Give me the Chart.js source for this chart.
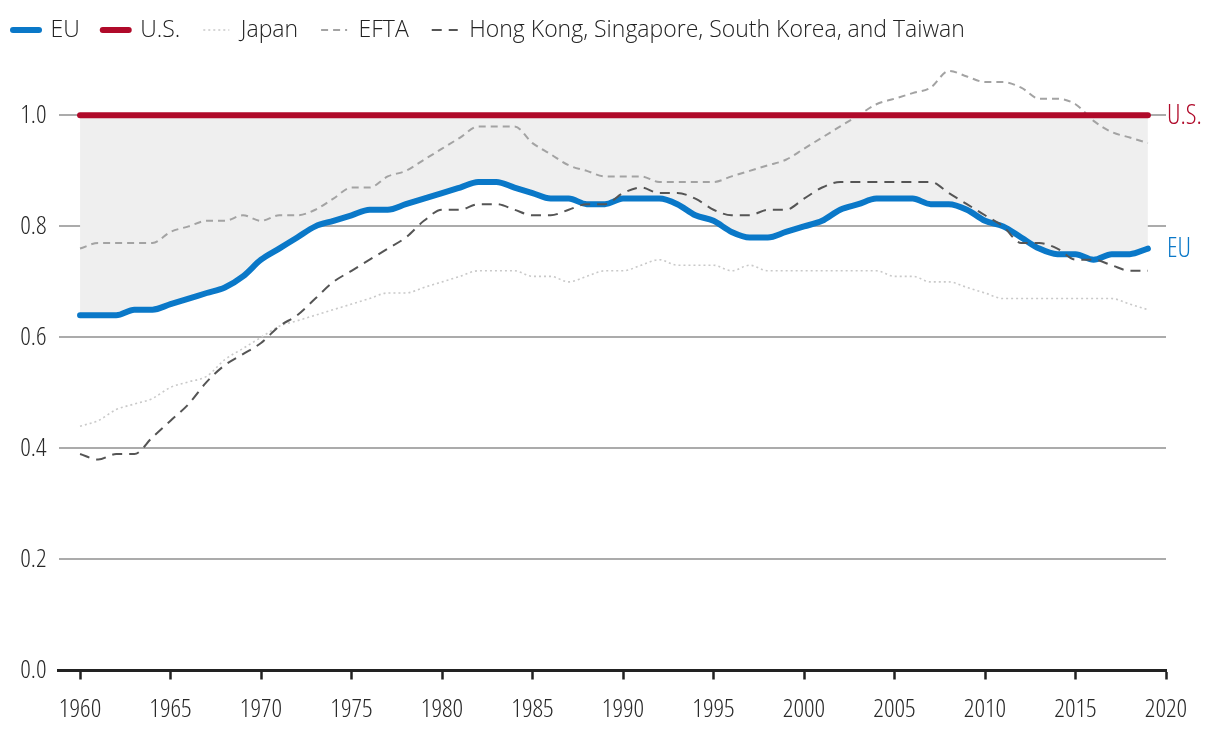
<!DOCTYPE html>
<html>
<head>
<meta charset="utf-8">
<script src="https://cdn.jsdelivr.net/npm/chart.js@4.4.0/dist/chart.umd.min.js"></script>
<style>
  html, body { margin: 0; padding: 0; background: #ffffff; }
  #wrap { width: 1220px; height: 742px; position: relative; }
</style>
</head>
<body>
<div id="wrap"><canvas id="c" width="1220" height="742"></canvas></div>
<script>
const years = [1960,1961,1962,1963,1964,1965,1966,1967,1968,1969,
               1970,1971,1972,1973,1974,1975,1976,1977,1978,1979,
               1980,1981,1982,1983,1984,1985,1986,1987,1988,1989,
               1990,1991,1992,1993,1994,1995,1996,1997,1998,1999,
               2000,2001,2002,2003,2004,2005,2006,2007,2008,2009,
               2010,2011,2012,2013,2014,2015,2016,2017,2018,2019];

const euValues = [0.64,0.64,0.64,0.65,0.65,0.66,0.67,0.68,0.69,0.71,
                  0.74,0.76,0.78,0.80,0.81,0.82,0.83,0.83,0.84,0.85,
                  0.86,0.87,0.88,0.88,0.87,0.86,0.85,0.85,0.84,0.84,
                  0.85,0.85,0.85,0.84,0.82,0.81,0.79,0.78,0.78,0.79,
                  0.80,0.81,0.83,0.84,0.85,0.85,0.85,0.84,0.84,0.83,
                  0.81,0.80,0.78,0.76,0.75,0.75,0.74,0.75,0.75,0.76];

const usValues = [1.0,1.0,1.0,1.0,1.0,1.0,1.0,1.0,1.0,1.0,
                  1.0,1.0,1.0,1.0,1.0,1.0,1.0,1.0,1.0,1.0,
                  1.0,1.0,1.0,1.0,1.0,1.0,1.0,1.0,1.0,1.0,
                  1.0,1.0,1.0,1.0,1.0,1.0,1.0,1.0,1.0,1.0,
                  1.0,1.0,1.0,1.0,1.0,1.0,1.0,1.0,1.0,1.0,
                  1.0,1.0,1.0,1.0,1.0,1.0,1.0,1.0,1.0,1.0];

const japanValues = [0.44,0.45,0.47,0.48,0.49,0.51,0.52,0.53,0.56,0.58,
                     0.60,0.62,0.63,0.64,0.65,0.66,0.67,0.68,0.68,0.69,
                     0.70,0.71,0.72,0.72,0.72,0.71,0.71,0.70,0.71,0.72,
                     0.72,0.73,0.74,0.73,0.73,0.73,0.72,0.73,0.72,0.72,
                     0.72,0.72,0.72,0.72,0.72,0.71,0.71,0.70,0.70,0.69,
                     0.68,0.67,0.67,0.67,0.67,0.67,0.67,0.67,0.66,0.65];

const eftaValues = [0.76,0.77,0.77,0.77,0.77,0.79,0.80,0.81,0.81,0.82,
                    0.81,0.82,0.82,0.83,0.85,0.87,0.87,0.89,0.90,0.92,
                    0.94,0.96,0.98,0.98,0.98,0.95,0.93,0.91,0.90,0.89,
                    0.89,0.89,0.88,0.88,0.88,0.88,0.89,0.90,0.91,0.92,
                    0.94,0.96,0.98,1.00,1.02,1.03,1.04,1.05,1.08,1.07,
                    1.06,1.06,1.05,1.03,1.03,1.02,0.99,0.97,0.96,0.95];

const asiaValues = [0.39,0.38,0.39,0.39,0.42,0.45,0.48,0.52,0.55,0.57,
                    0.59,0.62,0.64,0.67,0.70,0.72,0.74,0.76,0.78,0.81,
                    0.83,0.83,0.84,0.84,0.83,0.82,0.82,0.83,0.84,0.84,
                    0.86,0.87,0.86,0.86,0.85,0.83,0.82,0.82,0.83,0.83,
                    0.85,0.87,0.88,0.88,0.88,0.88,0.88,0.88,0.86,0.84,
                    0.82,0.80,0.77,0.77,0.76,0.74,0.74,0.73,0.72,0.72];

const xTickLabels = [1960,1965,1970,1975,1980,1985,1990,1995,2000,2005,2010,2015,2020];
const yTickLabels = [0.0,0.2,0.4,0.6,0.8,1.0];

const seriesNames = ['EU','U.S.','Japan','EFTA','Hong Kong, Singapore, South Korea, and Taiwan'];

const FONT = "'Open Sans','Noto Sans',sans-serif";
const TICK_FONT = { family: FONT, size: 26, weight: '300 condensed' };
const toPoints = (vals) => years.map((yr, i) => ({x: yr, y: vals[i]}));

const endLabels = {
  id: 'endLabels',
  afterDatasetsDraw(chart) {
    const ctx = chart.ctx;
    chart.data.datasets.forEach((ds, i) => {
      if (!ds.endLabel) return;
      const meta = chart.getDatasetMeta(i);
      const pt = meta.data[meta.data.length - 1];
      ctx.save();
      ctx.font = "300 condensed 27px " + FONT;
      ctx.fillStyle = ds.borderColor;
      ctx.textAlign = 'left';
      ctx.textBaseline = 'middle';
      ctx.fillText(ds.endLabel, chart.chartArea.right + 1, pt.y + 1);
      ctx.restore();
    });
  }
};

new Chart(document.getElementById('c'), {
  type: 'line',
  data: {
    datasets: [
      { label: seriesNames[0], data: toPoints(euValues), borderColor: '#0a78c8', backgroundColor: '#efefef',
        borderWidth: 6, borderCapStyle: 'round', fill: 1, order: 1, endLabel: 'EU' },
      { label: seriesNames[1], data: toPoints(usValues), borderColor: '#b00a2a', backgroundColor: '#b00a2a',
        borderWidth: 6, borderCapStyle: 'round', fill: false, order: 2, endLabel: 'U.S.' },
      { label: seriesNames[2], data: toPoints(japanValues), borderColor: '#c9c9c9', backgroundColor: '#c9c9c9',
        borderWidth: 1.6, borderDash: [2, 3], fill: false, order: 4 },
      { label: seriesNames[3], data: toPoints(eftaValues), borderColor: '#a3a3a3', backgroundColor: '#a3a3a3',
        borderWidth: 2, borderDash: [7, 5], fill: false, order: 3 },
      { label: seriesNames[4], data: toPoints(asiaValues), borderColor: '#555555', backgroundColor: '#555555',
        borderWidth: 2, borderDash: [10, 7], fill: false, order: 0 }
    ]
  },
  options: {
    responsive: false,
    animation: false,
    events: [],
    layout: { padding: { left: -10, right: 54, top: -4.5, bottom: 0 } },
    elements: {
      point: { radius: 0 },
      line: { cubicInterpolationMode: 'monotone' }
    },
    plugins: {
      tooltip: { enabled: false },
      filler: { drawTime: 'beforeDatasetsDraw' },
      legend: {
        position: 'top',
        align: 'start',
        labels: {
          usePointStyle: true,
          pointStyle: 'line',
          pointStyleWidth: 26,
          padding: 23,
          color: '#222',
          font: { family: FONT, size: 23, weight: '300' },
          sort: (a, b) => a.datasetIndex - b.datasetIndex,
          generateLabels: (chart) => {
            const items = Chart.defaults.plugins.legend.labels.generateLabels(chart);
            items.forEach(it => {
              const ds = chart.data.datasets[it.datasetIndex];
              it.lineDash = ds.borderDash || [];
              it.lineWidth = ds.borderWidth;
              it.strokeStyle = ds.borderColor;
              it.lineCap = ds.borderCapStyle || 'butt';
            });
            return items;
          }
        }
      }
    },
    scales: {
      x: {
        type: 'linear',
        min: 1958.81,
        max: 2020,
        afterBuildTicks: (scale) => { scale.ticks = xTickLabels.map(v => ({ value: v })); },
        afterFit: (scale) => { scale.height = 71.5; },
        border: { display: true, color: '#222', width: 3 },
        grid: { display: true, drawOnChartArea: false, drawTicks: true, tickLength: 9, tickWidth: 2.5, tickColor: '#222' },
        ticks: { color: '#2a2a2a', padding: 14, maxRotation: 0, autoSkip: false,
                 font: TICK_FONT, callback: (v) => String(v) }
      },
      y: {
        type: 'linear',
        min: 0,
        max: 1.115,
        afterBuildTicks: (scale) => { scale.ticks = yTickLabels.map(v => ({ value: v })); },
        afterFit: (scale) => { scale.width = 68.5; },
        border: { display: false },
        grid: { color: '#ababab', lineWidth: 2, drawTicks: false },
        ticks: { color: '#2a2a2a', padding: 12, font: TICK_FONT,
                 callback: (v) => Number(v).toFixed(1) }
      }
    }
  },
  plugins: [endLabels]
});
</script>
</body>
</html>
